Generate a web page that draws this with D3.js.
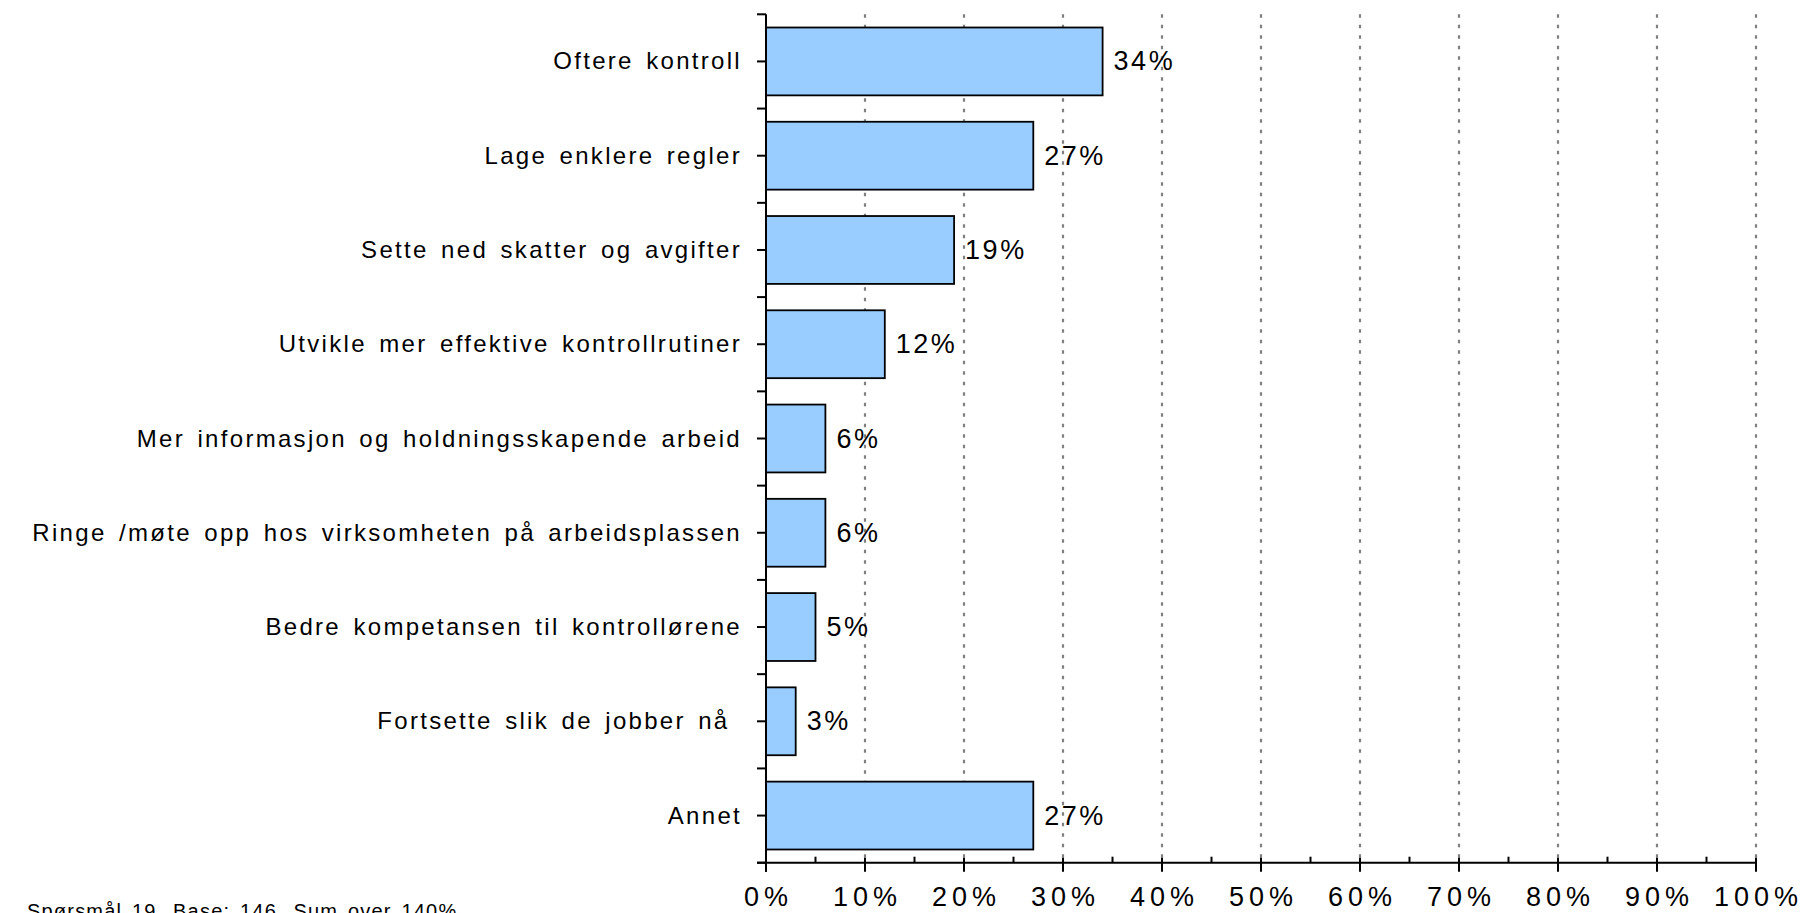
<!DOCTYPE html>
<html>
<head>
<meta charset="utf-8">
<script src="https://cdn.jsdelivr.net/npm/d3@7"></script>
<style>
  html, body { margin: 0; padding: 0; background: #ffffff; }
  svg { display: block; font-family: "Liberation Sans", Arial, sans-serif; }
</style>
</head>
<body>
<svg id="chart" width="1803" height="913"></svg>
<script>
// Survey answers: share of respondents per suggestion (percent)
const categories = [
  "Oftere kontroll",
  "Lage enklere regler",
  "Sette ned skatter og avgifter",
  "Utvikle mer effektive kontrollrutiner",
  "Mer informasjon og holdningsskapende arbeid",
  "Ringe /møte opp hos virksomheten på arbeidsplassen",
  "Bedre kompetansen til kontrollørene",
  "Fortsette slik de jobber nå ",
  "Annet"
];
const values = [34, 27, 19, 12, 6, 6, 5, 3, 27];
const majorTicks = [0, 10, 20, 30, 40, 50, 60, 70, 80, 90, 100];
const minorTicks = [5, 15, 25, 35, 45, 55, 65, 75, 85, 95];
const footnote = "Spørsmål 19. Base: 146. Sum over 140%";

const svg = d3.select("#chart");

const plot = { left: 766, right: 1756, top: 14.3, bottom: 862.7 };

const x = d3.scaleLinear().domain([0, 100]).range([plot.left, plot.right]);
const y = d3.scaleBand()
  .domain(categories)
  .range([plot.top, plot.bottom])
  .paddingInner(0.28)
  .paddingOuter(0.14);

// dotted vertical gridlines
svg.append("g")
  .selectAll("line")
  .data(majorTicks.filter(d => d > 0))
  .join("line")
  .attr("x1", d => x(d)).attr("x2", d => x(d))
  .attr("y1", plot.top).attr("y2", plot.bottom)
  .attr("stroke", "#808080")
  .attr("stroke-width", 2.2)
  .attr("stroke-dasharray", "3.5,7");

// bars
svg.append("g")
  .selectAll("rect")
  .data(categories)
  .join("rect")
  .attr("x", x(0))
  .attr("y", d => y(d))
  .attr("width", (d, i) => x(values[i]) - x(0))
  .attr("height", y.bandwidth())
  .attr("fill", "#99ccff")
  .attr("stroke", "#000000")
  .attr("stroke-width", 1.8);

// value labels
svg.append("g")
  .selectAll("text")
  .data(categories)
  .join("text")
  .attr("x", (d, i) => x(values[i]) + 11)
  .attr("y", d => y(d) + y.bandwidth() / 2 + 9)
  .attr("font-size", 27)
  .attr("letter-spacing", 2.5)
  .attr("fill", "#000")
  .text((d, i) => values[i] + "%");

// category axis: line + ticks at band edges and centres
const yAxis = svg.append("g");
const step = y.step();
const edges = categories.map(d => y(d) - (step - y.bandwidth()) / 2);
edges.push(plot.bottom);
const centres = categories.map(d => y(d) + y.bandwidth() / 2);
yAxis.selectAll("line.tick")
  .data(edges.concat(centres))
  .join("line")
  .attr("class", "tick")
  .attr("x1", plot.left - 9).attr("x2", plot.left)
  .attr("y1", d => d).attr("y2", d => d)
  .attr("stroke", "#000").attr("stroke-width", 2);
yAxis.append("line")
  .attr("x1", plot.left).attr("x2", plot.left)
  .attr("y1", plot.top).attr("y2", plot.bottom + 9)
  .attr("stroke", "#000").attr("stroke-width", 2);

// category labels
svg.append("g")
  .selectAll("text")
  .data(categories)
  .join("text")
  .attr("x", plot.left - 24)
  .attr("y", d => y(d) + y.bandwidth() / 2 + 8)
  .attr("text-anchor", "end")
  .attr("font-size", 24)
  .attr("letter-spacing", 2.3)
  .attr("word-spacing", 3.5)
  .style("white-space", "pre")
  .attr("fill", "#000")
  .text(d => d);

// value axis
const xAxis = svg.append("g");
xAxis.append("line")
  .attr("x1", plot.left - 9).attr("x2", plot.right)
  .attr("y1", plot.bottom).attr("y2", plot.bottom)
  .attr("stroke", "#000").attr("stroke-width", 2);
xAxis.selectAll("line.major")
  .data(majorTicks)
  .join("line")
  .attr("class", "major")
  .attr("x1", d => x(d)).attr("x2", d => x(d))
  .attr("y1", plot.bottom - 5).attr("y2", plot.bottom + 9)
  .attr("stroke", "#000").attr("stroke-width", 2);
xAxis.selectAll("line.minor")
  .data(minorTicks)
  .join("line")
  .attr("class", "minor")
  .attr("x1", d => x(d)).attr("x2", d => x(d))
  .attr("y1", plot.bottom - 6).attr("y2", plot.bottom)
  .attr("stroke", "#000").attr("stroke-width", 2);
xAxis.selectAll("text")
  .data(majorTicks)
  .join("text")
  .attr("x", d => x(d) + 2.5)
  .attr("y", 906)
  .attr("text-anchor", "middle")
  .attr("font-size", 27)
  .attr("letter-spacing", 5)
  .attr("fill", "#000")
  .text(d => d + "%");

// footnote (partly below the page edge)
svg.append("text")
  .attr("x", 27)
  .attr("y", 918)
  .attr("font-size", 20)
  .attr("letter-spacing", 1.2)
  .attr("word-spacing", 3)
  .attr("fill", "#000")
  .text(footnote);
</script>
</body>
</html>
